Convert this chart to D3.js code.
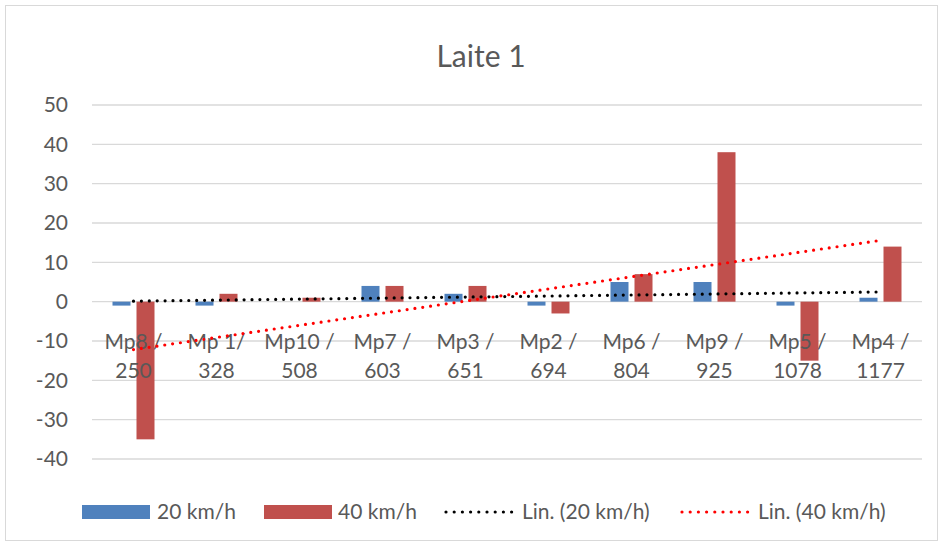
<!DOCTYPE html>
<html>
<head>
<meta charset="utf-8">
<script src="https://cdn.jsdelivr.net/npm/d3@7"></script>
<style>
    body { margin: 0; background: #fff; }
    text { font-family: Lato, "Open Sans", sans-serif; fill: #595959; }
</style>
</head>
<body>
<div id="chart"></div>
<script>
"use strict";

var categories = [
    ["Mp8 /", "250"], ["Mp 1/", "328"], ["Mp10 /", "508"], ["Mp7 /", "603"], ["Mp3 /", "651"],
    ["Mp2 /", "694"], ["Mp6 /", "804"], ["Mp9 /", "925"], ["Mp5 /", "1078"], ["Mp4 /", "1177"]
];
var series = ["20 km/h", "40 km/h"];
var values20 = [-1, -1, 0, 4, 2, -1, 5, 5, -1, 1];
var values40 = [-35, 2, 1, 4, 4, -3, 7, 38, -15, 14];
var yTicks = [50, 40, 30, 20, 10, 0, -10, -20, -30, -40];

var W = 944, H = 548;
var colors = { "20 km/h": "#4f81bd", "40 km/h": "#c0504d" };
var trendColors = { "20 km/h": "#000000", "40 km/h": "#ff0000" };

var svg = d3.select("#chart").append("svg")
    .attr("width", W)
    .attr("height", H);

// chart border
svg.append("rect")
    .attr("x", 5.5).attr("y", 5.5)
    .attr("width", 932).attr("height", 535)
    .attr("fill", "#fff")
    .attr("stroke", "#d9d9d9");

svg.append("text")
    .attr("x", 481).attr("y", 67)
    .attr("text-anchor", "middle")
    .attr("font-size", 30)
    .text("Laite 1");

var keys = categories.map(function (c) { return c.join(" "); });

var x0 = d3.scaleBand().domain(keys).range([92, 922]);
var x1 = d3.scaleBand().domain(series).range([-21, 21]).paddingInner(0.25);
var y = d3.scaleLinear().domain([-40, 50]).range([459, 105]);

// grid lines
svg.append("g")
    .selectAll("line")
    .data(yTicks)
    .enter().append("line")
    .attr("x1", 92).attr("x2", 922)
    .attr("y1", function (d) { return y(d); })
    .attr("y2", function (d) { return y(d); })
    .attr("stroke", "#d9d9d9")
    .attr("stroke-width", 1.3);

// plain hyphen for negatives, like the original
var yAxis = d3.axisLeft(y).tickValues(yTicks).tickSize(0).tickPadding(0)
    .tickFormat(function (d) { return String(d); });
var yg = svg.append("g")
    .attr("transform", "translate(68,0)")
    .call(yAxis);
yg.select(".domain").remove();
yg.selectAll("text")
    .attr("font-size", 21)
    .attr("fill", "#595959")
    .style("font-family", "Lato, sans-serif");

// bars
var rows = keys.map(function (k, i) {
    return { key: k, "20 km/h": values20[i], "40 km/h": values40[i] };
});

var groups = svg.append("g")
    .selectAll("g")
    .data(rows)
    .enter().append("g")
    .attr("transform", function (d) { return "translate(" + (x0(d.key) + x0.bandwidth() / 2) + ",0)"; });

groups.selectAll("rect")
    .data(function (d) { return series.map(function (s) { return { s: s, v: d[s] }; }); })
    .enter().append("rect")
    .attr("x", function (d) { return x1(d.s); })
    .attr("width", x1.bandwidth())
    .attr("y", function (d) { return Math.min(y(d.v), y(0)); })
    .attr("height", function (d) { return Math.abs(y(d.v) - y(0)); })
    .attr("fill", function (d) { return colors[d.s]; });

// category labels
var labels = svg.append("g")
    .selectAll("text")
    .data(categories)
    .enter().append("text")
    .attr("text-anchor", "middle")
    .attr("font-size", 21);
labels.append("tspan")
    .attr("x", function (d, i) { return x0(keys[i]) + x0.bandwidth() / 2; })
    .attr("y", 349)
    .text(function (d) { return d[0]; });
labels.append("tspan")
    .attr("x", function (d, i) { return x0(keys[i]) + x0.bandwidth() / 2; })
    .attr("y", 378)
    .text(function (d) { return d[1]; });

// linear trend lines (least squares over x = 1..n)
var fit = function (vals) {
    var n = vals.length, mx = (n + 1) / 2, my = d3.mean(vals);
    var sxy = 0, sxx = 0;
    vals.forEach(function (v, i) {
        sxy += (i + 1 - mx) * (v - my);
        sxx += (i + 1 - mx) * (i + 1 - mx);
    });
    var b = sxy / sxx;
    return [my + b * (1 - mx), my + b * (n - mx)];
};

var trends = [
    { s: "20 km/h", ends: fit(values20) },
    { s: "40 km/h", ends: fit(values40) }
];
var cx = function (i) { return x0(keys[i]) + x0.bandwidth() / 2; };

svg.append("g")
    .selectAll("line")
    .data(trends)
    .enter().append("line")
    .attr("x1", cx(0))
    .attr("x2", cx(keys.length - 1))
    .attr("y1", function (d) { return y(d.ends[0]); })
    .attr("y2", function (d) { return y(d.ends[1]); })
    .attr("stroke", function (d) { return trendColors[d.s]; })
    .attr("stroke-width", 3.2)
    .attr("stroke-linecap", "round")
    .attr("stroke-dasharray", "0 7.9");

// legend
var legend = [
    { label: "20 km/h", type: "bar", color: colors["20 km/h"], x: 82, tx: 157 },
    { label: "40 km/h", type: "bar", color: colors["40 km/h"], x: 264, tx: 338 },
    { label: "Lin. (20 km/h)", type: "line", color: "#000", x: 446, tx: 522 },
    { label: "Lin. (40 km/h)", type: "line", color: "#ff0000", x: 682, tx: 758 }
];
var lg = svg.append("g").selectAll("g").data(legend).enter().append("g");
lg.filter(function (d) { return d.type === "bar"; })
    .append("rect")
    .attr("x", function (d) { return d.x; })
    .attr("y", 505)
    .attr("width", 68).attr("height", 14)
    .attr("fill", function (d) { return d.color; });
lg.filter(function (d) { return d.type === "line"; })
    .append("line")
    .attr("x1", function (d) { return d.x; })
    .attr("x2", function (d) { return d.x + 66; })
    .attr("y1", 512).attr("y2", 512)
    .attr("stroke", function (d) { return d.color; })
    .attr("stroke-width", 3.2)
    .attr("stroke-linecap", "round")
    .attr("stroke-dasharray", "0 8.2");
lg.append("text")
    .attr("x", function (d) { return d.tx; })
    .attr("y", 519)
    .attr("font-size", 21)
    .text(function (d) { return d.label; });
</script>
</body>
</html>
